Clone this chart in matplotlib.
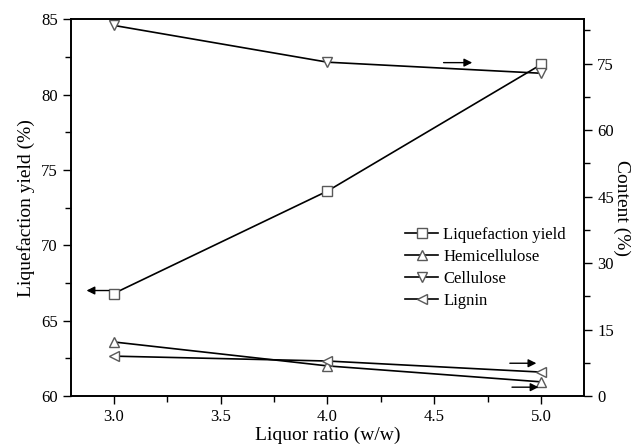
import matplotlib.pyplot as plt
from matplotlib.ticker import MultipleLocator

plt.rcParams['font.family'] = ['Liberation Serif', 'DejaVu Serif']

ratio = [3.0, 4.0, 5.0]
yield_pct = [66.8, 73.6, 82.0]
hemicellulose = [12.2, 6.8, 3.2]
cellulose = [83.6, 75.3, 72.8]
lignin = [9.0, 7.9, 5.4]

fig = plt.figure(figsize=(6.39, 4.46), dpi=100)
ax = fig.add_axes([0.111, 0.112, 0.803, 0.845])
ax2 = ax.twinx()

mk = dict(markerfacecolor='white', markeredgecolor='0.35', markersize=7, color='k', lw=1.2)
l1, = ax.plot(ratio, yield_pct, marker='s', label='Liquefaction yield', **mk)
l2, = ax2.plot(ratio, hemicellulose, marker='^', label='Hemicellulose', **mk)
l3, = ax2.plot(ratio, cellulose, marker='v', label='Cellulose', **mk)
l4, = ax2.plot(ratio, lignin, marker='<', label='Lignin', **mk)

ax.set_xlim(2.8, 5.2)
ax.set_ylim(60, 85)
ax2.set_ylim(0, 85)
ax.xaxis.set_major_locator(MultipleLocator(0.5))
ax.xaxis.set_minor_locator(MultipleLocator(0.25))
ax.yaxis.set_major_locator(MultipleLocator(5))
ax.yaxis.set_minor_locator(MultipleLocator(2.5))
ax2.yaxis.set_major_locator(MultipleLocator(15))
ax2.yaxis.set_minor_locator(MultipleLocator(7.5))
for a in (ax, ax2):
    a.tick_params(which='both', direction='out', labelsize=12, width=1)
    a.tick_params(which='major', length=6)
    a.tick_params(which='minor', length=4)
    for s in a.spines.values():
        s.set_linewidth(1.2)
ax.tick_params(axis='x', top=False, which='both')

ax.set_xlabel('Liquor ratio (w/w)', fontsize=14, labelpad=1)
ax.set_ylabel('Liquefaction yield (%)', fontsize=14, labelpad=4)
ax2.set_ylabel('Content (%)', fontsize=14, rotation=270, labelpad=12)

arr = dict(arrowstyle='-|>', color='k', lw=1, mutation_scale=12)
ax.annotate('', xy=(2.86, 67.0), xytext=(2.99, 67.0), arrowprops=arr)
ax2.annotate('', xy=(4.69, 75.2), xytext=(4.53, 75.2), arrowprops=arr)
ax2.annotate('', xy=(4.99, 7.4), xytext=(4.84, 7.4), arrowprops=arr)
ax2.annotate('', xy=(5.0, 2.0), xytext=(4.85, 2.0), arrowprops=arr)

ax2.legend(handles=[l1, l2, l3, l4], loc='upper left', bbox_to_anchor=(0.635, 0.47),
           frameon=False, fontsize=12, handlelength=2.0, handletextpad=0.3,
           labelspacing=0.35, borderpad=0)

plt.savefig('out.png', dpi=100)
